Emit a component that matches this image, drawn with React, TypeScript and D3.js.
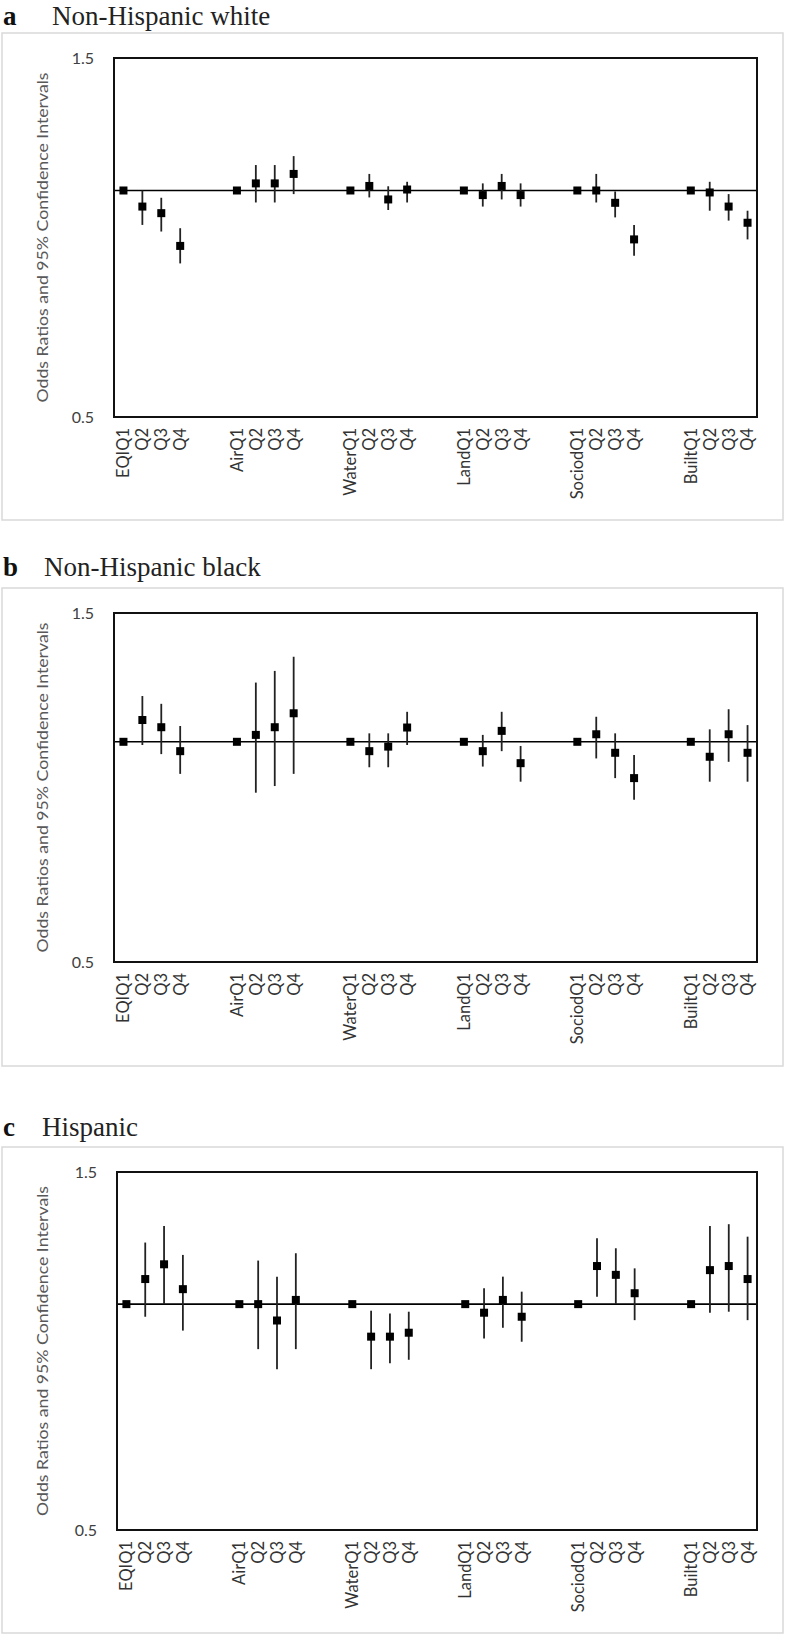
import React from 'react';
import * as d3 from 'd3';

// exposure domains and quartiles (Q1 is the reference group)
const groups = ['EQI', 'Air', 'Water', 'Land', 'Sociod', 'Built'];
const quartiles = ['Q1', 'Q2', 'Q3', 'Q4'];
const yTicks = [0.5, 1.5];

// odds ratios, lower and upper 95% CI, in order EQI Q1..Q4, Air Q1..Q4, ...
const orWhite = [1, 0.952, 0.933, 0.844, 1, 1.022, 1.022, 1.052, 1, 1.014, 0.973, 1.003, 1, 0.986, 1.014, 0.986, 1, 1.0, 0.963, 0.861, 1, 0.994, 0.952, 0.906];
const loWhite = [1, 0.9, 0.882, 0.8, 1, 0.964, 0.964, 0.989, 1, 0.979, 0.942, 0.964, 1, 0.952, 0.973, 0.952, 1, 0.964, 0.921, 0.819, 1, 0.94, 0.912, 0.861];
const hiWhite = [1, 1.0, 0.978, 0.891, 1, 1.081, 1.081, 1.111, 1, 1.052, 1.013, 1.027, 1, 1.022, 1.052, 1.022, 1, 1.052, 0.997, 0.9, 1, 1.027, 0.989, 0.94];

const orBlack = [1, 1.071, 1.047, 0.971, 1, 1.022, 1.047, 1.094, 1, 0.971, 0.985, 1.046, 1, 0.971, 1.035, 0.935, 1, 1.024, 0.966, 0.892, 1, 0.954, 1.024, 0.966];
const loBlack = [1, 0.99, 0.962, 0.904, 1, 0.852, 0.87, 0.904, 1, 0.923, 0.923, 0.99, 1, 0.925, 0.971, 0.882, 1, 0.949, 0.892, 0.833, 1, 0.882, 0.939, 0.882];
const hiBlack = [1, 1.155, 1.127, 1.051, 1, 1.205, 1.25, 1.307, 1, 1.027, 1.027, 1.099, 1, 1.022, 1.099, 0.987, 1, 1.082, 1.027, 0.959, 1, 1.04, 1.108, 1.054];

const orHisp = [1, 1.08, 1.13, 1.047, 1, 1.0, 0.951, 1.013, 1, 0.905, 0.905, 0.916, 1, 0.974, 1.013, 0.962, 1, 1.124, 1.094, 1.034, 1, 1.11, 1.124, 1.08];
const loHisp = [1, 0.962, 1.0, 0.922, 1, 0.871, 0.819, 0.871, 1, 0.819, 0.834, 0.843, 1, 0.9, 0.93, 0.891, 1, 1.023, 1.0, 0.952, 1, 0.974, 0.977, 0.952];
const hiHisp = [1, 1.208, 1.271, 1.163, 1, 1.143, 1.088, 1.169, 1, 0.98, 0.972, 0.977, 1, 1.05, 1.088, 1.039, 1, 1.224, 1.187, 1.116, 1, 1.271, 1.278, 1.23];

const W = 787;
const H = 1637;

const panels = [
  { letter: 'a', title: 'Non-Hispanic white', or: orWhite, lo: loWhite, hi: hiWhite, boxTop: 33, boxBottom: 520, top: 58, bottom: 417, left: 114, titleY: 25, titleX: 52 },
  { letter: 'b', title: 'Non-Hispanic black', or: orBlack, lo: loBlack, hi: hiBlack, boxTop: 588, boxBottom: 1066, top: 613, bottom: 962, left: 114, titleY: 576, titleX: 44 },
  { letter: 'c', title: 'Hispanic', or: orHisp, lo: loHisp, hi: hiHisp, boxTop: 1147, boxBottom: 1633, top: 1172, bottom: 1530, left: 117, titleY: 1136, titleX: 42 },
];

// excel-style category slots: 4 quartiles per group, two empty slots between groups
const slots: { key: string; label: string; idx: number }[] = [];
groups.forEach((g, gi) => {
  quartiles.forEach((q, qi) => {
    slots.push({ key: `${g}${q}`, label: qi === 0 ? g + q : q, idx: gi * 4 + qi });
  });
  if (gi < groups.length - 1) {
    slots.push({ key: `gap${gi}a`, label: '', idx: -1 });
    slots.push({ key: `gap${gi}b`, label: '', idx: -1 });
  }
});

const Panel = ({ p }: { p: typeof panels[number] }) => {
  const right = 757;
  const x = d3.scaleBand().domain(slots.map((s) => s.key)).range([p.left, right]).padding(0);
  const y = d3.scaleLog().domain([0.5, 1.5]).range([p.bottom, p.top]);
  const cx = (k: string) => (x(k) as number) + x.bandwidth() / 2;
  const pts = slots.filter((s) => s.idx >= 0);
  const sq = 8;

  return (
    <g>
      <text x={3} y={p.titleY} fontFamily="'Liberation Serif', 'Times New Roman', serif" fontSize={27} fontWeight="bold" fill="#111">
        {p.letter}
      </text>
      <text x={p.titleX} y={p.titleY} fontFamily="'Liberation Serif', 'Times New Roman', serif" fontSize={27} fill="#222">
        {p.title}
      </text>
      <rect x={2} y={p.boxTop} width={781} height={p.boxBottom - p.boxTop} fill="white" stroke="#d9d9d9" strokeWidth={1.5} />

      {/* y axis title */}
      <text
        transform={`translate(${43},${(p.top + p.bottom) / 2}) rotate(-90)`}
        textAnchor="middle"
        dy="0.35em"
        fontFamily="Lato, 'Open Sans', sans-serif"
        fontSize={15.5}
        fill="#595959"
        textLength={330}
        lengthAdjust="spacingAndGlyphs"
      >
        Odds Ratios and 95% Confidence Intervals
      </text>

      {yTicks.map((t) => (
        <text key={t} x={p.left - 20} y={y(t)} dy="0.35em" textAnchor="end" fontFamily="Lato, 'Open Sans', sans-serif" fontSize={16} fill="#404040">
          {d3.format('.1f')(t)}
        </text>
      ))}

      {/* reference line at OR = 1 */}
      <line x1={p.left} x2={right} y1={y(1)} y2={y(1)} stroke="#000" strokeWidth={1.6} />

      {pts.map((s) => (
        <line key={`ci-${s.key}`} x1={cx(s.key)} x2={cx(s.key)} y1={y(p.lo[s.idx])} y2={y(p.hi[s.idx])} stroke="#222" strokeWidth={1.8} />
      ))}
      {pts.map((s) => (
        <rect key={`pt-${s.key}`} x={cx(s.key) - sq / 2} y={y(p.or[s.idx]) - sq / 2} width={sq} height={sq} fill="#000" />
      ))}

      <rect x={p.left} y={p.top} width={right - p.left} height={p.bottom - p.top} fill="none" stroke="#111" strokeWidth={2} />

      {slots.map((s) =>
        s.label ? (
          <text
            key={`lab-${s.key}`}
            transform={`translate(${cx(s.key)},${p.bottom + 11}) rotate(-90)`}
            textAnchor="end"
            dy="0.36em"
            fontFamily="Lato, 'Open Sans', sans-serif"
            fontSize={16.5}
            fill="#333"
          >
            {s.label}
          </text>
        ) : null
      )}
    </g>
  );
};

export default function App() {
  return (
    <svg width={W} height={H} style={{ position: 'absolute', left: 0, top: 0, background: 'white' }}>
      <rect width={W} height={H} fill="white" />
      {panels.map((p) => (
        <Panel key={p.letter} p={p} />
      ))}
    </svg>
  );
}
